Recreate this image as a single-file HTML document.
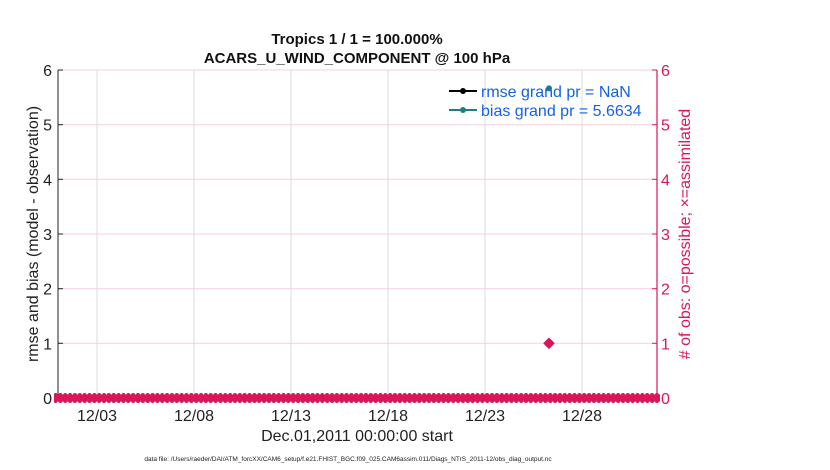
<!DOCTYPE html>
<html><head><meta charset="utf-8"><style>
body{margin:0;background:#fff;}
svg{display:block;font-family:"Liberation Sans",Arial,sans-serif;}
</style></head><body>
<svg width="830" height="470" viewBox="0 0 830 470">
<defs>
<pattern id="mk" x="58" y="393" width="4.85" height="10" patternUnits="userSpaceOnUse">
<circle cx="2.4" cy="2" r="2" fill="#d91657"/>
<circle cx="2.4" cy="8" r="2" fill="#d91657"/>
</pattern>
</defs>
<rect width="830" height="470" fill="#fff"/>
<g stroke="#dcdcdc" stroke-width="1">
<line x1="97" y1="70" x2="97" y2="398"/>
<line x1="194" y1="70" x2="194" y2="398"/>
<line x1="291" y1="70" x2="291" y2="398"/>
<line x1="388" y1="70" x2="388" y2="398"/>
<line x1="485" y1="70" x2="485" y2="398"/>
<line x1="582" y1="70" x2="582" y2="398"/>
</g>
<g stroke="#f7d0de" stroke-width="1">
<line x1="58" y1="70" x2="657" y2="70"/>
<line x1="58" y1="124.7" x2="657" y2="124.7"/>
<line x1="58" y1="179.3" x2="657" y2="179.3"/>
<line x1="58" y1="234" x2="657" y2="234"/>
<line x1="58" y1="288.7" x2="657" y2="288.7"/>
<line x1="58" y1="343.3" x2="657" y2="343.3"/>
</g>
<line x1="58" y1="70" x2="58" y2="398" stroke="#222" stroke-width="1"/>
<line x1="657" y1="70" x2="657" y2="398" stroke="#d91657" stroke-width="1.2"/>
<g stroke="#222"><line x1="58" y1="70" x2="63" y2="70"/><line x1="58" y1="124.7" x2="63" y2="124.7"/><line x1="58" y1="179.3" x2="63" y2="179.3"/><line x1="58" y1="234" x2="63" y2="234"/><line x1="58" y1="288.7" x2="63" y2="288.7"/><line x1="58" y1="343.3" x2="63" y2="343.3"/></g>
<g stroke="#d91657"><line x1="652" y1="70" x2="657" y2="70"/><line x1="652" y1="124.7" x2="657" y2="124.7"/><line x1="652" y1="179.3" x2="657" y2="179.3"/><line x1="652" y1="234" x2="657" y2="234"/><line x1="652" y1="288.7" x2="657" y2="288.7"/><line x1="652" y1="343.3" x2="657" y2="343.3"/></g>
<rect x="54" y="394.5" width="606" height="7" fill="#d91657"/>
<rect x="54" y="393" width="606" height="10" fill="url(#mk)"/>
<circle cx="549" cy="343.3" r="4.2" fill="#d91657"/>
<path d="M549,337.5 L554.8,343.3 L549,349.1 L543.2,343.3 Z" fill="#d91657"/>
<circle cx="549" cy="88.4" r="3" fill="#1a8080"/>
<g font-size="16" fill="#222" text-anchor="end">
<text x="52" y="76">6</text><text x="52" y="130.7">5</text><text x="52" y="185.3">4</text><text x="52" y="240">3</text><text x="52" y="294.7">2</text><text x="52" y="349.3">1</text><text x="52" y="404">0</text>
</g>
<g font-size="16" fill="#d91657">
<text x="661" y="76">6</text><text x="661" y="130.7">5</text><text x="661" y="185.3">4</text><text x="661" y="240">3</text><text x="661" y="294.7">2</text><text x="661" y="349.3">1</text><text x="661" y="404">0</text>
</g>
<g font-size="16" fill="#222" text-anchor="middle">
<text x="97" y="421">12/03</text><text x="194" y="421">12/08</text><text x="291" y="421">12/13</text><text x="388" y="421">12/18</text><text x="485" y="421">12/23</text><text x="582" y="421">12/28</text>
<text x="357" y="441">Dec.01,2011 00:00:00 start</text>
</g>
<text x="357" y="44" font-size="15" font-weight="bold" text-anchor="middle" fill="#111">Tropics 1 / 1 = 100.000%</text>
<text x="357" y="63" font-size="15" font-weight="bold" text-anchor="middle" fill="#111">ACARS_U_WIND_COMPONENT @ 100 hPa</text>
<text transform="translate(38,234) rotate(-90)" font-size="16" text-anchor="middle" fill="#222">rmse and bias (model - observation)</text>
<text transform="translate(690,234) rotate(-90)" font-size="16" text-anchor="middle" fill="#d91657"># of obs: o=possible; ×=assimilated</text>
<line x1="449" y1="91" x2="477" y2="91" stroke="#000" stroke-width="2"/>
<circle cx="463" cy="91" r="3" fill="#000"/>
<line x1="449" y1="110" x2="477" y2="110" stroke="#1a8080" stroke-width="2"/>
<circle cx="463" cy="110" r="3" fill="#1a8080"/>
<g font-size="16" fill="#1560e8">
<text x="481" y="97">rmse grand pr = NaN</text>
<text x="481" y="116">bias grand pr = 5.6634</text>
</g>
<text x="348" y="461" font-size="6.5" text-anchor="middle" fill="#222">data file: /Users/raeder/DAI/ATM_forcXX/CAM6_setup/f.e21.FHIST_BGC.f09_025.CAM6assim.011/Diags_NTrS_2011-12/obs_diag_output.nc</text>
</svg>
</body></html>
